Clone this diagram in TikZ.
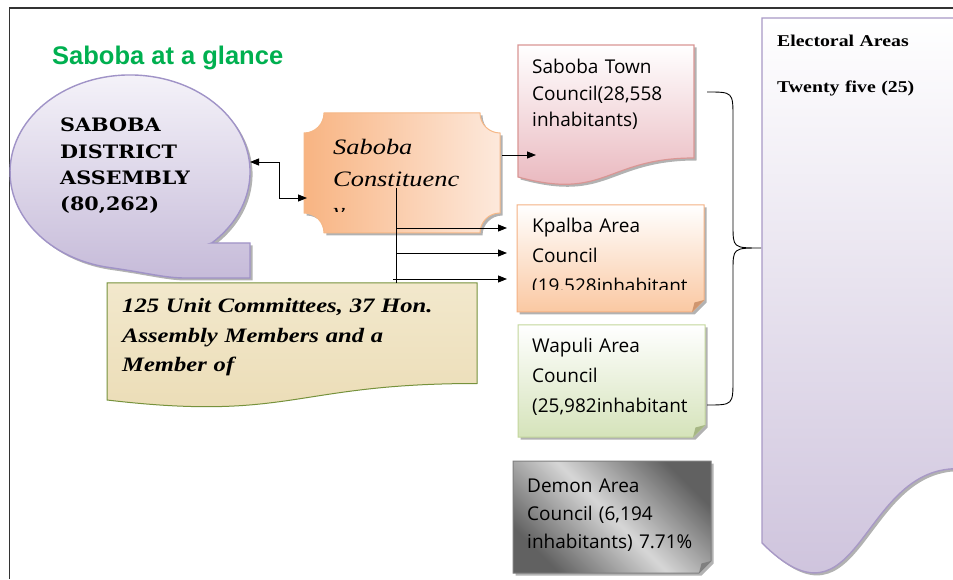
\documentclass[tikz,border=0pt]{standalone}
\usepackage{fontspec}
\setmainfont{Liberation Serif}
\newfontfamily\titlefont{Liberation Sans}
\newfontfamily\uifont{Open Sans}
\newfontfamily\wideserif{Liberation Serif}[FakeStretch=1.2]
\newfontfamily\asmfont{DejaVu Serif}[FakeStretch=1.12]
\usepackage{xcolor}
\usetikzlibrary{arrows.meta,shadows}

\definecolor{glancegreen}{HTML}{00B050}
\definecolor{asmline}{HTML}{A093C7}
\definecolor{asmtop}{HTML}{F6F4FA}
\definecolor{asmbot}{HTML}{C6BBD9}
\definecolor{conline}{HTML}{F6B887}
\definecolor{conleft}{HTML}{F8B482}
\definecolor{conright}{HTML}{FDE9DC}
\definecolor{townline}{HTML}{D99694}
\definecolor{townbot}{HTML}{E7B1B8}
\definecolor{kpline}{HTML}{F4B183}
\definecolor{kpbot}{HTML}{FAC8A2}
\definecolor{wpline}{HTML}{C3D69B}
\definecolor{wpbot}{HTML}{D5E3BA}
\definecolor{dmline}{HTML}{7F7F7F}
\definecolor{scrollline}{HTML}{76923C}
\definecolor{parchtop}{HTML}{F2E8CC}
\definecolor{parchbot}{HTML}{EBDCB5}
\definecolor{elline}{HTML}{A899C6}
\definecolor{elbot}{HTML}{C9BDD9}

\begin{document}
\begin{tikzpicture}[x=1pt,y=1pt,
  txt/.style={inner sep=0pt, anchor=base west, align=left},
  council/.style={txt, text width=185pt, font=\uifont\fontsize{19}{30}\selectfont},
  boxshadow/.style={drop shadow={shadow xshift=2.5pt, shadow yshift=-2.5pt, opacity=0.3, fill=black}},
  arrow/.style={-{Triangle[length=9pt,width=7pt]}, line width=0.9pt},
  dblarrow/.style={{Triangle[length=9pt,width=7pt]}-{Triangle[length=9pt,width=7pt]}, line width=0.9pt}
]
\useasboundingbox (0,0) rectangle (953,579);
\clip (0,0) rectangle (953,579);
\fill[white] (0,0) rectangle (953,579);

% frame
\draw[line width=1.3pt, black!80] (9.5,0) -- (9.5,571) -- (953,571);

\node[txt, font=\titlefont\bfseries\fontsize{25.5}{30}\selectfont, text=glancegreen] (title) at (52,514.5) {Saboba at a glance};

% district assembly bubble
\path[boxshadow, draw=asmline, line width=1.4pt, top color=asmtop, bottom color=asmbot]
  (211.7,336) -- (250,336) -- (250,301) -- (185,301) .. controls (165,301) and (149,305.8) .. (109.2,311.5)
  arc[start angle=-100, end angle=-407.05, x radius=120pt, y radius=97pt] -- cycle;
\node[txt, text width=175pt, font=\asmfont\bfseries\fontsize{18.5}{26.2}\selectfont] (asm) at (60,447) {SABOBA\\DISTRICT\\ASSEMBLY\\(80,262)};

% constituency plaque
\path[boxshadow, draw=conline, line width=1pt, left color=conleft, right color=conright]
  (324,466) -- (480,466) arc[start angle=180, end angle=270, radius=20pt] -- (500,366)
  arc[start angle=90, end angle=180, radius=20pt] -- (324,346)
  arc[start angle=0, end angle=90, radius=20pt] -- (304,446)
  arc[start angle=-90, end angle=0, radius=20pt] -- cycle;
\begin{scope}
  \clip (304,367) rectangle (500,466);
  \node[txt, text width=165pt, font=\wideserif\itshape\fontsize{22}{32}\selectfont] (con) at (333,424) {Saboba\\Constituenc\\y};
\end{scope}

% unit committees scroll
\path[draw=scrollline, line width=1pt, top color=parchtop, bottom color=parchbot]
  (107,296) -- (477,296) -- (477,195.5) .. controls (292,195.5) and (292,157.2) .. (107,179) -- cycle;
\node[txt, text width=360pt, font=\wideserif\bfseries\itshape\fontsize{20.5}{29.5}\selectfont] (units) at (122,266.3) {125 Unit Committees, 37 Hon.\\Assembly Members and a\\Member of};

% town council
\path[boxshadow, draw=townline, line width=1.2pt, top color=white, bottom color=townbot]
  (518,534) -- (694,534) -- (694,421) .. controls (606,421) and (606,378) .. (518,402) -- cycle;
\node[council, font=\uifont\fontsize{19}{26.5}\selectfont] (town) at (532,505) {Saboba Town\\Council(28,558\\inhabitants)};

% kpalba
\path[boxshadow, draw=kpline, line width=1pt, top color=white, bottom color=kpbot]
  (517,374) -- (704,374) -- (704,279) -- (692,267) -- (517,267) -- cycle;
\fill[kpline!85!black] (692,267) -- (694.5,276.5) -- (704,279) -- cycle;
\begin{scope}
  \clip (517,289) rectangle (704,374);
  \node[council] (kpalba) at (532,346) {Kpalba Area\\Council\\(19,528inhabitant};
\end{scope}

% wapuli
\path[boxshadow, draw=wpline, line width=1pt, top color=white, bottom color=wpbot]
  (518,254) -- (705,254) -- (705,154) -- (693,142) -- (518,142) -- cycle;
\fill[wpline!85!black] (693,142) -- (695.5,151.5) -- (705,154) -- cycle;
\node[council] (wapuli) at (532,226) {Wapuli Area\\Council\\(25,982inhabitant};

% demon
\path[boxshadow, draw=dmline, line width=1pt, left color=black!62, right color=black!62, middle color=black!16, shading angle=135]
  (513,118) -- (711,118) -- (711,18) -- (699,6) -- (513,6) -- cycle;
\fill[black!50] (699,6) -- (701.5,15.5) -- (711,18) -- cycle;
\node[council, font=\uifont\fontsize{19}{28}\selectfont] (demon) at (527,87) {Demon Area\\Council (6,194\\inhabitants) 7.71\%};

% electoral areas
\path[boxshadow, draw=elline, line width=1.4pt, top color=white, bottom color=elbot]
  (762,561) -- (957,561) -- (957,110.3) .. controls (859.5,110.3) and (859.5,-61.4) .. (762,36) -- cycle;
\node[txt, text width=170pt, font=\wideserif\bfseries\fontsize{16.5}{46}\selectfont] (electoral) at (777,532.5) {Electoral Areas\\Twenty five (25)};

% connectors
\coordinate (asm-e) at (250,417);
\coordinate (con-w) at (307,381);
\coordinate (con-e) at (502,424);
\coordinate (town-w) at (536,424);
\coordinate (split-top) at (396,391);
\coordinate (split-bot) at (396,296);
\coordinate (kp-in1) at (507,351);
\coordinate (kp-in2) at (507,326);
\coordinate (kp-in3) at (507,300);
\coordinate (town-brace) at (707,487);
\coordinate (el-cusp) at (761,331);
\coordinate (wp-brace) at (707,174);

\draw[dblarrow] (asm-e) -- ++(29,0) |- (con-w);
\draw[arrow] (con-e) -- (town-w);
\draw[line width=0.9pt] (split-top) -- (split-bot);
\draw[arrow] (split-top |- kp-in1) -- (kp-in1);
\draw[arrow] (split-top |- kp-in2) -- (kp-in2);
\draw[arrow] (393,300) -- (kp-in3);

\draw[line width=0.9pt] (town-brace) .. controls (733,487) .. (733,461) -- (733,354) .. controls (733,331) .. (el-cusp)
  .. controls (733,331) .. (733,308) -- (733,200) .. controls (733,174) .. (wp-brace);
\end{tikzpicture}
\end{document}
